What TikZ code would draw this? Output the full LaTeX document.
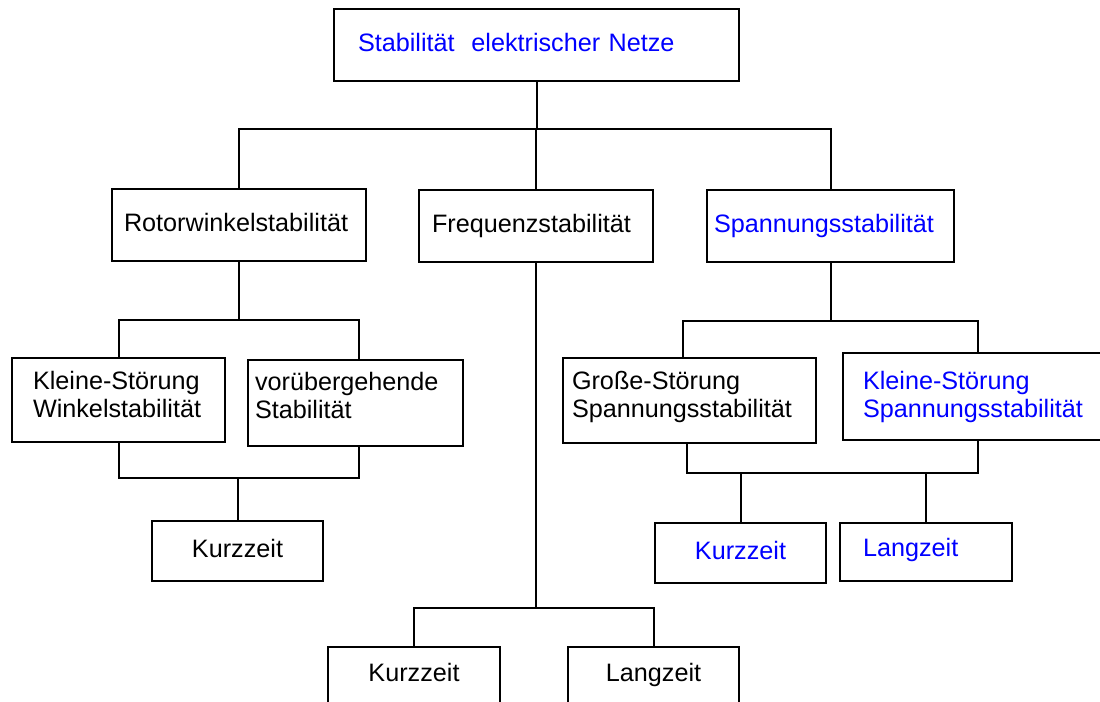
\documentclass[tikz,border=0pt]{standalone}
\usepackage{fontspec}
\setmainfont{Liberation Sans}
\usepackage{xcolor}
\usepackage{tikz}
\usetikzlibrary{positioning}
\hyphenpenalty=10000
\exhyphenpenalty=10000
\newcommand{\boxsink}[1]{\rule[-#1]{0pt}{#1}}
\tikzstyle{box}=[draw,rectangle,line width=1pt,inner ysep=0pt,font=\fontsize{12.6}{14}\selectfont]
\tikzstyle{lbox}=[box,align=left]
\tikzstyle{cbox}=[box,align=center]
\tikzstyle{one}=[text height=9.2pt,text depth=2.8pt]
\tikzstyle{link}=[draw,line width=1pt]

\begin{document}
\begin{tikzpicture}[x=0.5pt,y=-0.5pt]
\useasboundingbox (0,0) rectangle (1100,702);

	\node[lbox,one,text=blue,text width=178.5pt,inner xsep=12pt,minimum height=36pt] (top) at (536.5,45) {Stabilität~ elektrischer Netze};

	\node[lbox,one,text width=115pt,inner xsep=6pt,minimum height=36pt] (rot) at (239,225) {Rotorwinkelstabilität};
	\node[lbox,one,text width=104pt,inner xsep=6.5pt,minimum height=36pt] (fre) at (536,226) {Frequenzstabilität};
	\node[lbox,one,text=blue,text width=116.5pt,inner xsep=3.5pt,minimum height=36pt] (spa) at (830.5,226) {Spannungsstabilität};

	\node[lbox,text width=85.5pt,inner xsep=10.5pt,minimum height=42pt] (kw) at (118.5,400) {Kleine-Störung\\Winkelstabilität\boxsink{5.2pt}};
	\node[lbox,text width=100.5pt,inner xsep=3.5pt,minimum height=43pt] (vs) at (355.5,403) {vorübergehende\\Stabilität\boxsink{8pt}};
	\node[cbox,one,minimum width=85.5pt,minimum height=30pt] (kz1) at (237.5,551) {Kurzzeit};

	\node[lbox,text width=117.5pt,inner xsep=4.5pt,minimum height=42.5pt] (gs) at (689.5,400.5) {Große-Störung\\Spannungsstabilität\boxsink{5.7pt}};
	\node[lbox,text=blue,text width=114.5pt,inner xsep=10pt,minimum height=43.5pt] (ks) at (977.5,396.5) {Kleine-Störung\\Spannungsstabilität\boxsink{1.7pt}};
	\node[cbox,one,text=blue,minimum width=85.5pt,minimum height=30pt] (kz3) at (740.5,553) {Kurzzeit};
	\node[lbox,text=blue,text height=9.2pt,text depth=4.4pt,text width=63pt,inner xsep=11.5pt,minimum height=29pt] (lz3) at (926,552) {Langzeit};

	\node[cbox,anchor=north,minimum width=86pt,inner ysep=8pt,text height=9.2pt,text depth=20pt] (kz2) at (414,646) {Kurzzeit};
	\node[cbox,anchor=north,minimum width=85.5pt,inner ysep=8pt,text height=9.2pt,text depth=20pt] (lz2) at (653.5,646) {Langzeit};

	% first level
	\draw[link] (top.south) -- ++(0,47) coordinate (r1);
	\draw[link] (rot.north) |- (r1) -| (spa.north);
	\draw[link] (fre.north) -- (fre.north |- r1);

	% Rotorwinkel
	\draw[link] (rot.south) -- ++(0,58) coordinate (r2);
	\draw[link] (kw.north) |- (r2) -| ([xshift=1.75pt]vs.north);
	\draw[link] (kz1.north) -- ++(0,-42) coordinate (r3);
	\draw[link] (kw.south) |- (r3) -| ([xshift=1.75pt]vs.south);

	% Frequenz
	\draw[link] (fre.south) -- ++(0,345) coordinate (r4);
	\draw[link] (kz2.north) |- (r4) -| (lz2.north);

	% Spannung
	\draw[link] (spa.south) -- ++(0,58) coordinate (r5);
	\draw[link] ([xshift=-3.25pt]gs.north) |- (r5) -| (ks.north);
	\draw[link] (kz3.north) -- ++(0,-49) coordinate (r6);
	\draw[link] ([xshift=-1.25pt]gs.south) |- (r6) -| (ks.south);
	\draw[link] (lz3.north) -- (lz3.north |- r6);
\end{tikzpicture}
\end{document}
